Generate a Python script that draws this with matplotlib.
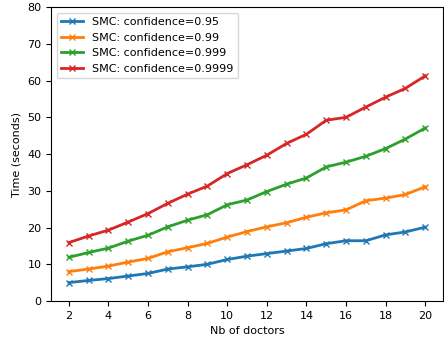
import numpy as np
import matplotlib
matplotlib.use('Agg')
import matplotlib.pyplot as plt

plt.rcParams['font.size'] = 8

doctors = list(range(2, 21))

conf_095 = [5.0, 5.6, 6.1, 6.8, 7.5, 8.7, 9.3, 10.0, 11.3, 12.2, 12.9, 13.6, 14.3, 15.6, 16.4, 16.4, 18.0, 18.8, 20.1]
conf_099 = [8.0, 8.7, 9.5, 10.6, 11.6, 13.4, 14.5, 15.7, 17.4, 18.9, 20.2, 21.3, 22.8, 24.0, 24.8, 27.3, 28.0, 29.0, 31.1]
conf_0999 = [11.9, 13.2, 14.4, 16.3, 17.9, 20.2, 22.0, 23.5, 26.2, 27.5, 29.8, 31.8, 33.5, 36.5, 37.8, 39.4, 41.5, 44.1, 47.1]
conf_09999 = [15.9, 17.7, 19.3, 21.5, 23.8, 26.6, 29.1, 31.3, 34.7, 37.1, 39.7, 42.9, 45.4, 49.2, 50.0, 52.8, 55.5, 57.9, 61.3]

series = [
    ('SMC: confidence=0.95', conf_095),
    ('SMC: confidence=0.99', conf_099),
    ('SMC: confidence=0.999', conf_0999),
    ('SMC: confidence=0.9999', conf_09999),
]

fig = plt.figure(figsize=(4.44, 3.38), dpi=100)
ax = fig.add_axes([0.115, 0.1095, 0.883, 0.8695])

for label, vals in series:
    ax.plot(doctors, vals, marker='x', linewidth=2, markersize=5, label=label)

ax.set_ylim(0, 80)
ax.set_xticks(range(2, 21, 2))
ax.set_xlabel('Nb of doctors')
ax.set_ylabel('Time (seconds)')
ax.legend(loc='upper left')

fig.savefig('out.png', dpi=100)
